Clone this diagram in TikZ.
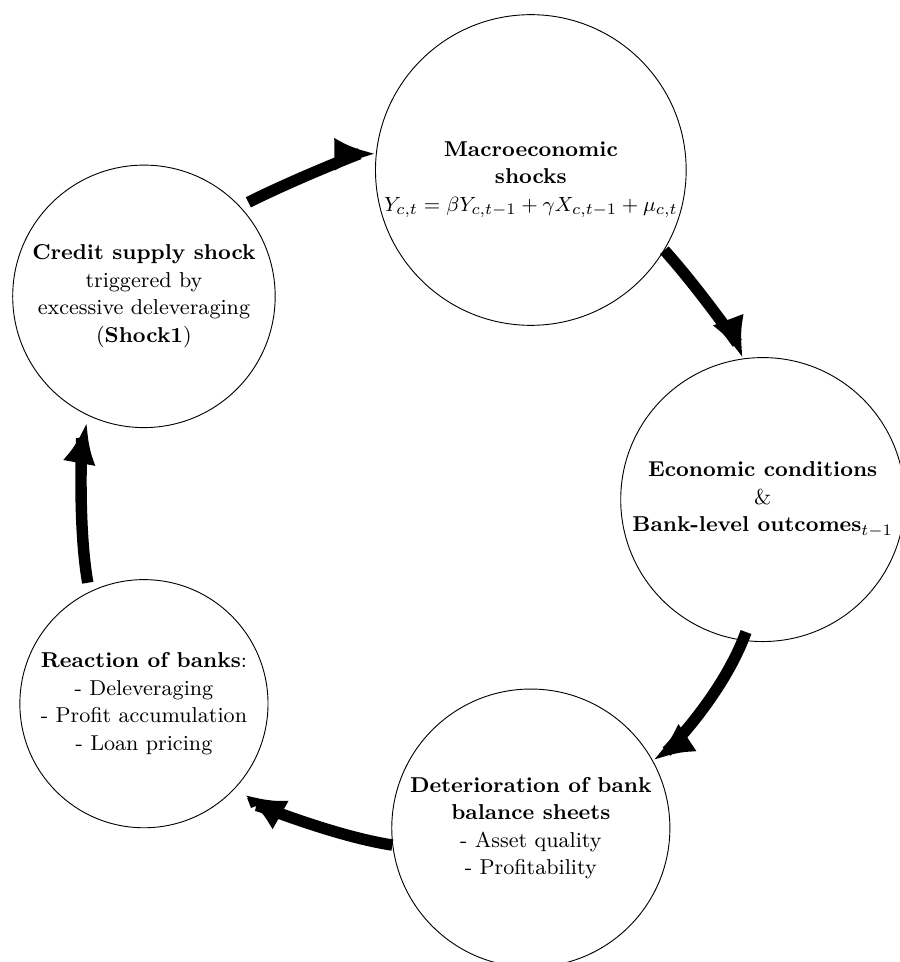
\documentclass[tikz,border=0pt]{standalone}
\usepackage{tikz}
\usetikzlibrary{arrows.meta, positioning, decorations.markings}

\begin{document}
\begin{tikzpicture}[line width=5pt, node distance=2.32cm, in looseness=0.3,
                    flow/.style={shorten >=#1+7pt, postaction={decorate},
                      decoration={markings, mark=at position -#1 with
                        {\arrow{Latex[length=18pt, width=14.5pt]}}}},
                    flow/.default=0.1pt]
  \tikzstyle{phase}=[circle, draw=black, line width=0.4pt, align=center, inner sep=0pt,
                     font=\fontsize{9.4pt}{12pt}\selectfont]

  \useasboundingbox (-2.21,4.55) rectangle (11.60,-10.22);

  \node[phase, minimum size=4.03cm] (credit) at (0,0)
        {\textbf{Credit supply shock}\\ triggered by\\ excessive deleveraging\\ (\textbf{Shock1})};
  \node[phase, minimum size=3.81cm] (reaction) [below =2.32cm of credit]
        {\textbf{Reaction of banks}:\\ - Deleveraging\\ - Profit accumulation\\ - Loan pricing};
  \node[phase, minimum size=4.77cm, text height=39pt] (macro) at (5.94,1.94)
        {\textbf{Macroeconomic}\\ \textbf{shocks}\\ $Y_{c,t}=\beta Y_{c,t-1}+\gamma X_{c,t-1}+\mu_{c,t}$};
  \node[phase, minimum size=4.27cm] (deterior) [below =5.57cm of macro]
        {\textbf{Deterioration of bank}\\ \textbf{balance sheets}\\ - Asset quality\\ - Profitability};
  \node[phase, minimum size=4.36cm] (econ) at (9.50,-3.12)
        {\textbf{Economic conditions}\\ \&\\ \textbf{Bank-level outcomes}$_{t-1}$};

  \path
        (credit.43)    edge [flow, out=27, in=180, shorten <=4pt]     (macro.174)
        (macro.-31)    edge [flow, out=-48, in=110]                   (econ.98)
        (econ.-98)     edge [flow, out=-110, in=33, shorten <=-4pt]   (deterior.29)
        (deterior.187) edge [flow=5pt, out=171, in=-39]               (reaction.-43)
        (reaction.116) edge [flow=3pt, out=100, in=253, shorten <=4pt] (credit.245);
\end{tikzpicture}
\end{document}
